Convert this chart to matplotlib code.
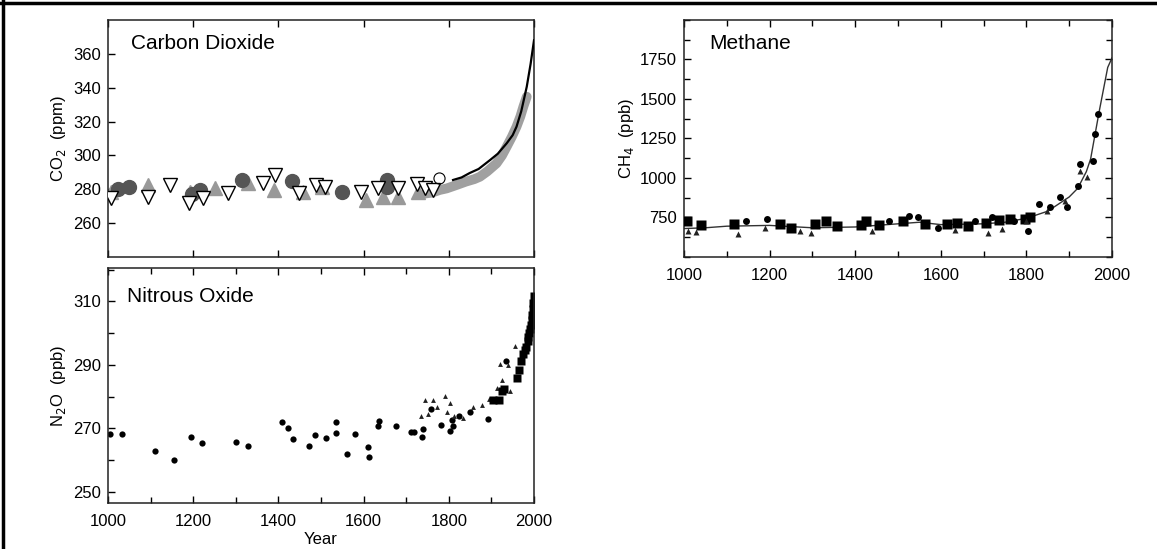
import matplotlib
matplotlib.use("Agg")
import matplotlib.pyplot as plt
from matplotlib.ticker import MultipleLocator
from matplotlib.lines import Line2D

plt.rcParams['font.family'] = ['Liberation Sans', 'DejaVu Sans']

# ---- CO2 (ppm) ----
co2_tri_open_yr = [1006, 1093, 1145, 1191, 1223, 1282, 1363, 1393, 1448, 1489, 1510, 1593, 1634, 1680, 1726, 1745, 1763]
co2_tri_open_val = [274.6, 275.6, 282.6, 272.0, 274.6, 277.6, 284.0, 288.2, 278.0, 282.6, 281.6, 278.6, 280.6, 280.6, 283.2, 280.6, 279.6]
co2_circ_yr = [1023, 1050, 1197, 1215, 1315, 1432, 1550, 1654, 1654]
co2_circ_val = [280.0, 281.6, 277.2, 279.6, 285.6, 284.6, 278.6, 285.6, 281.6]
co2_tri_gray_yr = [1006, 1093, 1193, 1250, 1328, 1389, 1458, 1502, 1606, 1645, 1680, 1728]
co2_tri_gray_val = [278.6, 282.6, 278.6, 280.6, 283.6, 279.6, 278.6, 281.6, 273.6, 275.6, 275.6, 278.6]
co2_open_circ_yr = [1776]
co2_open_circ_val = [286.6]
co2_band_yr = [1745, 1760, 1779, 1795, 1818, 1840, 1860, 1873, 1890, 1912, 1925, 1936, 1948, 1959, 1968, 1975, 1983]
co2_band_val = [277.5, 278.0, 279.6, 280.5, 282.5, 284.5, 286.0, 287.4, 290.5, 295.3, 300.0, 305.2, 311.0, 317.0, 323.0, 328.8, 334.7]
co2_line_yr = [1810, 1830, 1849, 1870, 1897, 1915, 1936, 1950, 1959, 1970, 1983, 1992, 2000]
co2_line_val = [285.5, 287.0, 289.6, 292.0, 297.3, 301.0, 307.2, 312.0, 317.0, 326.0, 340.6, 354.0, 368.0]

# ---- CH4 (ppb) ----
ch4_sq_yr = [1007, 1039, 1116, 1224, 1250, 1305, 1331, 1357, 1413, 1426, 1456, 1512, 1564, 1615, 1637, 1663, 1706, 1736, 1762, 1796, 1809]
ch4_sq_val = [729, 703, 712, 712, 686, 712, 729, 697, 703, 725, 703, 725, 712, 712, 718, 699, 718, 733, 740, 740, 754]
ch4_circ_yr = [1146, 1194, 1478, 1525, 1546, 1594, 1680, 1719, 1770, 1804, 1830, 1856, 1878, 1895, 1921, 1925, 1955, 1960, 1968]
ch4_circ_val = [729, 740, 729, 761, 750, 686, 729, 750, 729, 665, 835, 814, 877, 814, 951, 1089, 1110, 1280, 1407]
ch4_tri_yr = [1009, 1028, 1125, 1189, 1271, 1297, 1439, 1633, 1710, 1744, 1800, 1847, 1890, 1925, 1942]
ch4_tri_val = [665, 659, 648, 686, 665, 655, 665, 669, 650, 676, 729, 792, 856, 1047, 1004]
ch4_line_yr = [1000, 1050, 1100, 1200, 1300, 1400, 1500, 1550, 1600, 1700, 1750, 1800, 1850, 1900, 1920, 1940, 1950, 1960, 1970, 1980, 1990, 2000]
ch4_line_val = [680, 685, 695, 700, 685, 690, 710, 720, 705, 710, 720, 745, 790, 880, 935, 1040, 1120, 1270, 1420, 1560, 1700, 1760]

# ---- N2O (ppb) ----
n2o_circ_yr = [1004, 1033, 1111, 1155, 1195, 1221, 1300, 1328, 1408, 1422, 1435, 1472, 1486, 1511, 1535, 1535, 1561, 1579, 1611, 1613,
               1633, 1635, 1677, 1712, 1718, 1738, 1739, 1758, 1782, 1802, 1808, 1810, 1825, 1850, 1893, 1934]
n2o_circ_val = [268.3, 268.3, 263.0, 260.0, 267.3, 265.3, 265.6, 264.6, 272.1, 270.1, 266.8, 264.6, 268.0, 267.1, 272.1, 268.6, 262.0, 268.1, 264.0, 261.1,
                270.8, 272.3, 270.8, 269.0, 269.0, 267.3, 269.8, 276.1, 271.1, 269.3, 272.5, 270.8, 273.8, 275.0, 273.1, 291.3]
n2o_sq_yr = [1904, 1917, 1926, 1930, 1961, 1965, 1969, 1975, 1978, 1982, 1985, 1987, 1989, 1991, 1993, 1995, 1996, 1997, 1998, 2000]
n2o_sq_val = [278.8, 278.8, 281.8, 282.3, 285.8, 288.3, 291.3, 293.5, 294.7, 295.7, 297.5, 298.7, 300.0, 301.2, 302.7, 304.0, 305.7, 307.7, 309.5, 311.7]
n2o_tri_yr = [1734, 1745, 1751, 1764, 1773, 1790, 1795, 1803, 1812, 1834, 1856, 1878, 1895, 1913, 1921, 1926, 1939, 1943, 1956]
n2o_tri_val = [274.0, 279.0, 274.6, 279.0, 276.8, 280.3, 275.3, 278.1, 273.8, 273.3, 276.8, 277.3, 279.3, 282.8, 290.3, 285.3, 289.8, 281.8, 295.9]

W, H = 1157, 549
fig = plt.figure(figsize=(W / 100, H / 100), dpi=100)


def box(l, t, r, b):
    return [l / W, 1 - b / H, (r - l) / W, (b - t) / H]


def style(ax, right_ticks=False, minor=True):
    ax.set_xlim(1000, 2000)
    ax.xaxis.set_major_locator(MultipleLocator(200))
    if minor:
        ax.xaxis.set_minor_locator(MultipleLocator(100))
    ax.tick_params(which='both', direction='in', top=True, right=right_ticks,
                   labelsize=12, width=1.0)
    ax.tick_params(axis='x', pad=8)
    ax.tick_params(axis='y', pad=5)
    ax.tick_params(which='major', length=5)
    ax.tick_params(which='minor', length=4)
    for s in ax.spines.values():
        s.set_linewidth(1.1)
        s.set_color('#222222')


# Carbon dioxide
ax1 = fig.add_axes(box(108, 20, 534, 257))
ax1.plot(co2_band_yr, co2_band_val, color='#a0a0a0', lw=7, solid_capstyle='round', zorder=2)
ax1.plot(co2_line_yr, co2_line_val, color='black', lw=1.6, zorder=3)
ax1.plot(co2_tri_gray_yr, co2_tri_gray_val, '^', ms=10, color='#999999', mec='#999999', zorder=2)
ax1.plot(co2_circ_yr, co2_circ_val, 'o', ms=10, color='#555555', mec='#555555', zorder=3)
ax1.plot(co2_tri_open_yr, co2_tri_open_val, 'v', ms=10, mfc='white', mec='black', mew=1.0, zorder=4)
ax1.plot(co2_open_circ_yr, co2_open_circ_val, 'o', ms=8, mfc='none', mec='black', mew=0.8, zorder=4)
ax1.set_ylim(240, 380)
ax1.set_yticks([260, 280, 300, 320, 340, 360])
style(ax1, minor=False)
ax1.tick_params(labelbottom=False)
ax1.set_ylabel('CO$_2$  (ppm)', fontsize=12, labelpad=4)
ax1.text(0.055, 0.9, 'Carbon Dioxide', transform=ax1.transAxes, fontsize=15, va='center')

# Nitrous oxide
ax2 = fig.add_axes(box(108, 268, 534, 503))
ax2.plot(n2o_circ_yr, n2o_circ_val, 'o', ms=4.5, color='black', mec='none')
ax2.plot(n2o_tri_yr, n2o_tri_val, '^', ms=3.5, color='#222222', mec='none')
ax2.plot(n2o_sq_yr, n2o_sq_val, 's', ms=6, color='black', mec='none')
ax2.set_ylim(246.5, 320.5)
ax2.set_yticks([250, 270, 290, 310])
ax2.yaxis.set_minor_locator(MultipleLocator(10))
style(ax2)
ax2.set_xlabel('Year', fontsize=12, labelpad=2)
ax2.set_ylabel('N$_2$O  (ppb)', fontsize=12, labelpad=4)
ax2.text(0.045, 0.88, 'Nitrous Oxide', transform=ax2.transAxes, fontsize=15, va='center')

# Methane
ax3 = fig.add_axes(box(684, 20, 1112, 257))
ax3.plot(ch4_line_yr, ch4_line_val, color='#333333', lw=1.0, zorder=2)
ax3.plot(ch4_sq_yr, ch4_sq_val, 's', ms=6.5, color='black', mec='none', zorder=3)
ax3.plot(ch4_circ_yr, ch4_circ_val, 'o', ms=5, color='black', mec='none', zorder=3)
ax3.plot(ch4_tri_yr, ch4_tri_val, '^', ms=4.5, color='#222222', mec='none', zorder=3)
ax3.set_ylim(500, 2000)
ax3.set_yticks([750, 1000, 1250, 1500, 1750])
ax3.yaxis.set_minor_locator(MultipleLocator(125))
style(ax3, right_ticks=True)
ax3.set_ylabel('CH$_4$  (ppb)', fontsize=12, labelpad=3)
ax3.text(0.06, 0.9, 'Methane', transform=ax3.transAxes, fontsize=15, va='center')

# page frame lines (top and left)
fig.add_artist(Line2D([0, 1], [1 - 3 / H, 1 - 3 / H], color='black', lw=2.5, transform=fig.transFigure))
fig.add_artist(Line2D([3 / W, 3 / W], [0, 1], color='black', lw=2.5, transform=fig.transFigure))

fig.savefig('out.png', dpi=100)
